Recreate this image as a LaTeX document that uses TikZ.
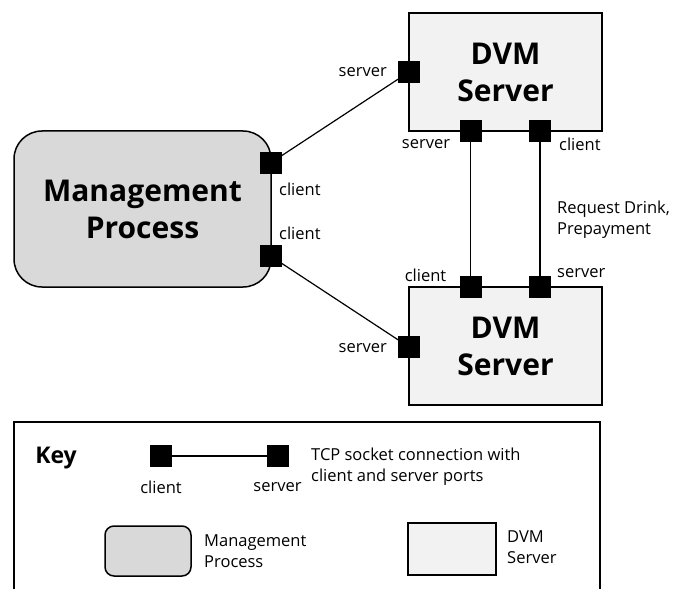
\documentclass[tikz,border=0pt]{standalone}
\usepackage{fontspec}
\setmainfont{Open Sans}
\begin{document}
\begin{tikzpicture}[x=1pt,y=-1pt,
  box/.style={draw=black,line width=1.5pt,inner sep=0pt},
  mgmtbox/.style={box,fill=mgray,rounded corners=28pt},
  dvmbox/.style={box,fill=lgray},
  bigtxt/.style={align=center,font=\bfseries\fontsize{30}{37}\selectfont},
  port/.style={fill=black,draw=black,minimum size=21pt,inner sep=0pt},
  lbl/.style={font=\fontsize{16.5}{21}\selectfont,inner sep=0pt,align=left},
  conn/.style={draw=black,line width=1.2pt}]
\definecolor{mgray}{HTML}{D9D9D9}
\definecolor{lgray}{HTML}{F2F2F2}
\useasboundingbox (0,0) rectangle (676,588);

% main components
\node[mgmtbox,minimum width=257pt,minimum height=156pt] (mp) at (142.5,209) {};
\node[bigtxt] (mptxt) at (142.5,209) {Management\\Process};
\node[dvmbox,minimum width=193pt,minimum height=118pt] (d1) at (505.5,72) {};
\node[bigtxt] (d1txt) at (505.5,72) {DVM\\Server};
\node[dvmbox,minimum width=193pt,minimum height=118pt] (d2) at (505.5,346) {};
\node[bigtxt] (d2txt) at (505.5,346) {DVM\\Server};

% ports
\node[port] (mpa) at (270.5,163) {};
\node[port] (mpb) at (270.5,256) {};
\node[port] (d1w) at (409,72) {};
\node[port] (d1s1) at (470.5,131) {};
\node[port] (d1s2) at (540,131) {};
\node[port] (d2n1) at (470.5,287) {};
\node[port] (d2n2) at (540,287) {};
\node[port] (d2w) at (409,347) {};

% connections
\draw[conn] (mpa.center) -- (d1w.center);
\draw[conn] (mpb.center) -- (d2w.center);
\draw[conn] (d1s1.center) -- (d2n1.center);
\draw[conn] (d1s2.center) -- (d2n2.center);
% redraw ports over the lines
\foreach \p in {mpa,mpb,d1w,d1s1,d1s2,d2n1,d2n2,d2w}
  \fill[black] (\p.south west) rectangle (\p.north east);

% port labels
\node[lbl,anchor=east] (l1) at (387,72) {server};
\node[lbl] (l2) at (426,144) {server};
\node[lbl,anchor=west] (l3) at (559,144) {client};
\node[lbl,anchor=west] (l4) at (279,189) {client};
\node[lbl,anchor=west] (l5) at (279,233) {client};
\node[lbl,anchor=west] (l6) at (557,220) {Request Drink,\\Prepayment};
\node[lbl] (l7) at (425.5,275) {client};
\node[lbl,anchor=west] (l8) at (557,273) {server};
\node[lbl,anchor=east] (l9) at (387,348) {server};

% key
\draw[line width=1.5pt] (14,592) -- (14,422) -- (600,422) -- (600,592);
\node[font=\bfseries\fontsize{23}{26}\selectfont] (key) at (56,458) {Key};
\node[port] (ka) at (161,456) {};
\node[port] (kb) at (278,456) {};
\draw[conn] (ka) -- (kb);
\node[lbl] (kc) at (161,487) {client};
\node[lbl] (ks) at (277.5,487) {server};
\node[lbl,anchor=west] (kt) at (311,467) {TCP socket connection with\\client and server ports};
\node[mgmtbox,rounded corners=9pt,minimum width=86pt,minimum height=50pt] (km) at (148,551) {};
\node[lbl,anchor=west] (kmt) at (204,551) {Management\\Process};
\node[dvmbox,minimum width=88pt,minimum height=52pt] (kd) at (452,549) {};
\node[lbl,anchor=west] (kdt) at (507,547.5) {DVM\\Server};
\end{tikzpicture}
\end{document}
